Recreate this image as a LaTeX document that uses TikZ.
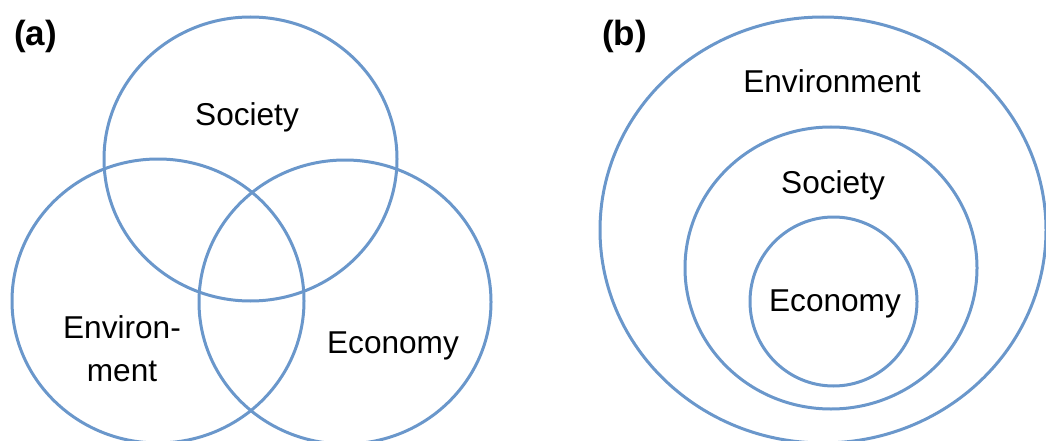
\documentclass[tikz,border=0pt]{standalone}
\usepackage{fontspec}
\setmainfont{Liberation Sans}
\begin{document}
\begin{tikzpicture}[x=1pt,y=-1pt,
  ring/.style={draw=ringblue, line width=3pt},
  lbl/.style={anchor=base, inner sep=0pt, font=\fontsize{31.6}{42}\selectfont},
  panel/.style={anchor=base west, inner sep=0pt, font=\fontsize{35}{40}\selectfont\bfseries}]
\definecolor{ringblue}{HTML}{6A97CB}
\useasboundingbox (0,0) rectangle (1046,441);
\clip (0,0) rectangle (1046,441);
% panel (a)
\node[panel] (pa) at (14,46) {(a)};
\draw[ring] (250.5,159) ellipse [x radius=146.5, y radius=142];
\draw[ring] (158,301) ellipse [x radius=146, y radius=142];
\draw[ring] (345,302) ellipse [x radius=146, y radius=142];
\node[lbl] (soca) at (247,126) {Society};
\node[lbl] (env1) at (122,338) {Environ-};
\node[lbl] (env2) at (122,381) {ment};
\node[lbl] (ecoa) at (393,353) {Economy};
% panel (b)
\node[panel] (pb) at (602,46) {(b)};
\draw[ring] (823,230) ellipse [x radius=223, y radius=213];
\draw[ring] (831,268) ellipse [x radius=146, y radius=141];
\draw[ring] (833.5,301.5) ellipse [x radius=83.5, y radius=84.5];
\node[lbl] (envb) at (832,93) {Environment};
\node[lbl] (socb) at (833,193) {Society};
\node[lbl] (ecob) at (835,311) {Economy};
\end{tikzpicture}
\end{document}
